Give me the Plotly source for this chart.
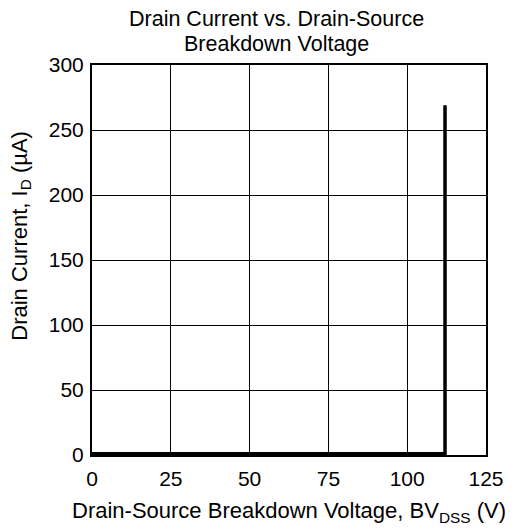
import plotly.graph_objects as go

voltage = [0, 112, 112]
current = [1, 1, 269]

x_ticks = [0, 25, 50, 75, 100, 125]
y_ticks = [0, 50, 100, 150, 200, 250, 300]

title_lines = ["Drain Current vs. Drain-Source", "Breakdown Voltage"]
x_title = "Drain-Source Breakdown Voltage, BV<sub>DSS</sub> (V)"
y_title = "Drain Current, I<sub>D</sub> (µA)"

font = "Liberation Sans, Arial, Helvetica, sans-serif"

W, H = 508, 522
L, R, T, B = 84, 26, 57, 75
plot_h = H - T - B
plot_w = W - L - R


def py(fig_y):
    return (H - B - fig_y) / plot_h


def px(fig_x):
    return (fig_x - L) / plot_w


fig = go.Figure()
fig.add_trace(go.Scatter(x=voltage, y=current, mode="lines",
                         line=dict(color="black", width=3.5), hoverinfo="skip"))

annotations = [
    dict(text=title_lines[0], x=px(270), y=py(11), xref="paper", yref="paper",
         xanchor="center", yanchor="middle", showarrow=False,
         font=dict(family=font, size=21.5, color="black")),
    dict(text=title_lines[1], x=px(270), y=py(36), xref="paper", yref="paper",
         xanchor="center", yanchor="middle", showarrow=False,
         font=dict(family=font, size=21.5, color="black")),
    dict(text=x_title, x=px(283), y=py(504), xref="paper", yref="paper",
         xanchor="center", yanchor="middle", showarrow=False,
         font=dict(family=font, size=22, color="black")),
    dict(text=y_title, x=px(12), y=py(228), xref="paper", yref="paper",
         xanchor="center", yanchor="middle", showarrow=False, textangle=-90,
         font=dict(family=font, size=22, color="black")),
]

fig.update_layout(
    width=W, height=H,
    margin=dict(l=L, r=R, t=T, b=B),
    paper_bgcolor="white", plot_bgcolor="white",
    showlegend=False,
    font=dict(family=font, size=21, color="black"),
    annotations=annotations,
)
fig.update_xaxes(range=[0, 125], tickvals=x_ticks, ticktext=[str(v) for v in x_ticks],
                 showgrid=True, gridcolor="black", gridwidth=1,
                 showline=True, linecolor="black", linewidth=2, mirror=True,
                 ticks="", zeroline=False, tickfont=dict(size=21),
                 ticklabelstandoff=4)
fig.update_yaxes(range=[0, 300], tickvals=y_ticks, ticktext=[str(v) for v in y_ticks],
                 showgrid=True, gridcolor="black", gridwidth=1,
                 showline=True, linecolor="black", linewidth=2, mirror=True,
                 ticks="", zeroline=False, tickfont=dict(size=21),
                 ticklabelstandoff=2)

fig.write_html("out.html")
